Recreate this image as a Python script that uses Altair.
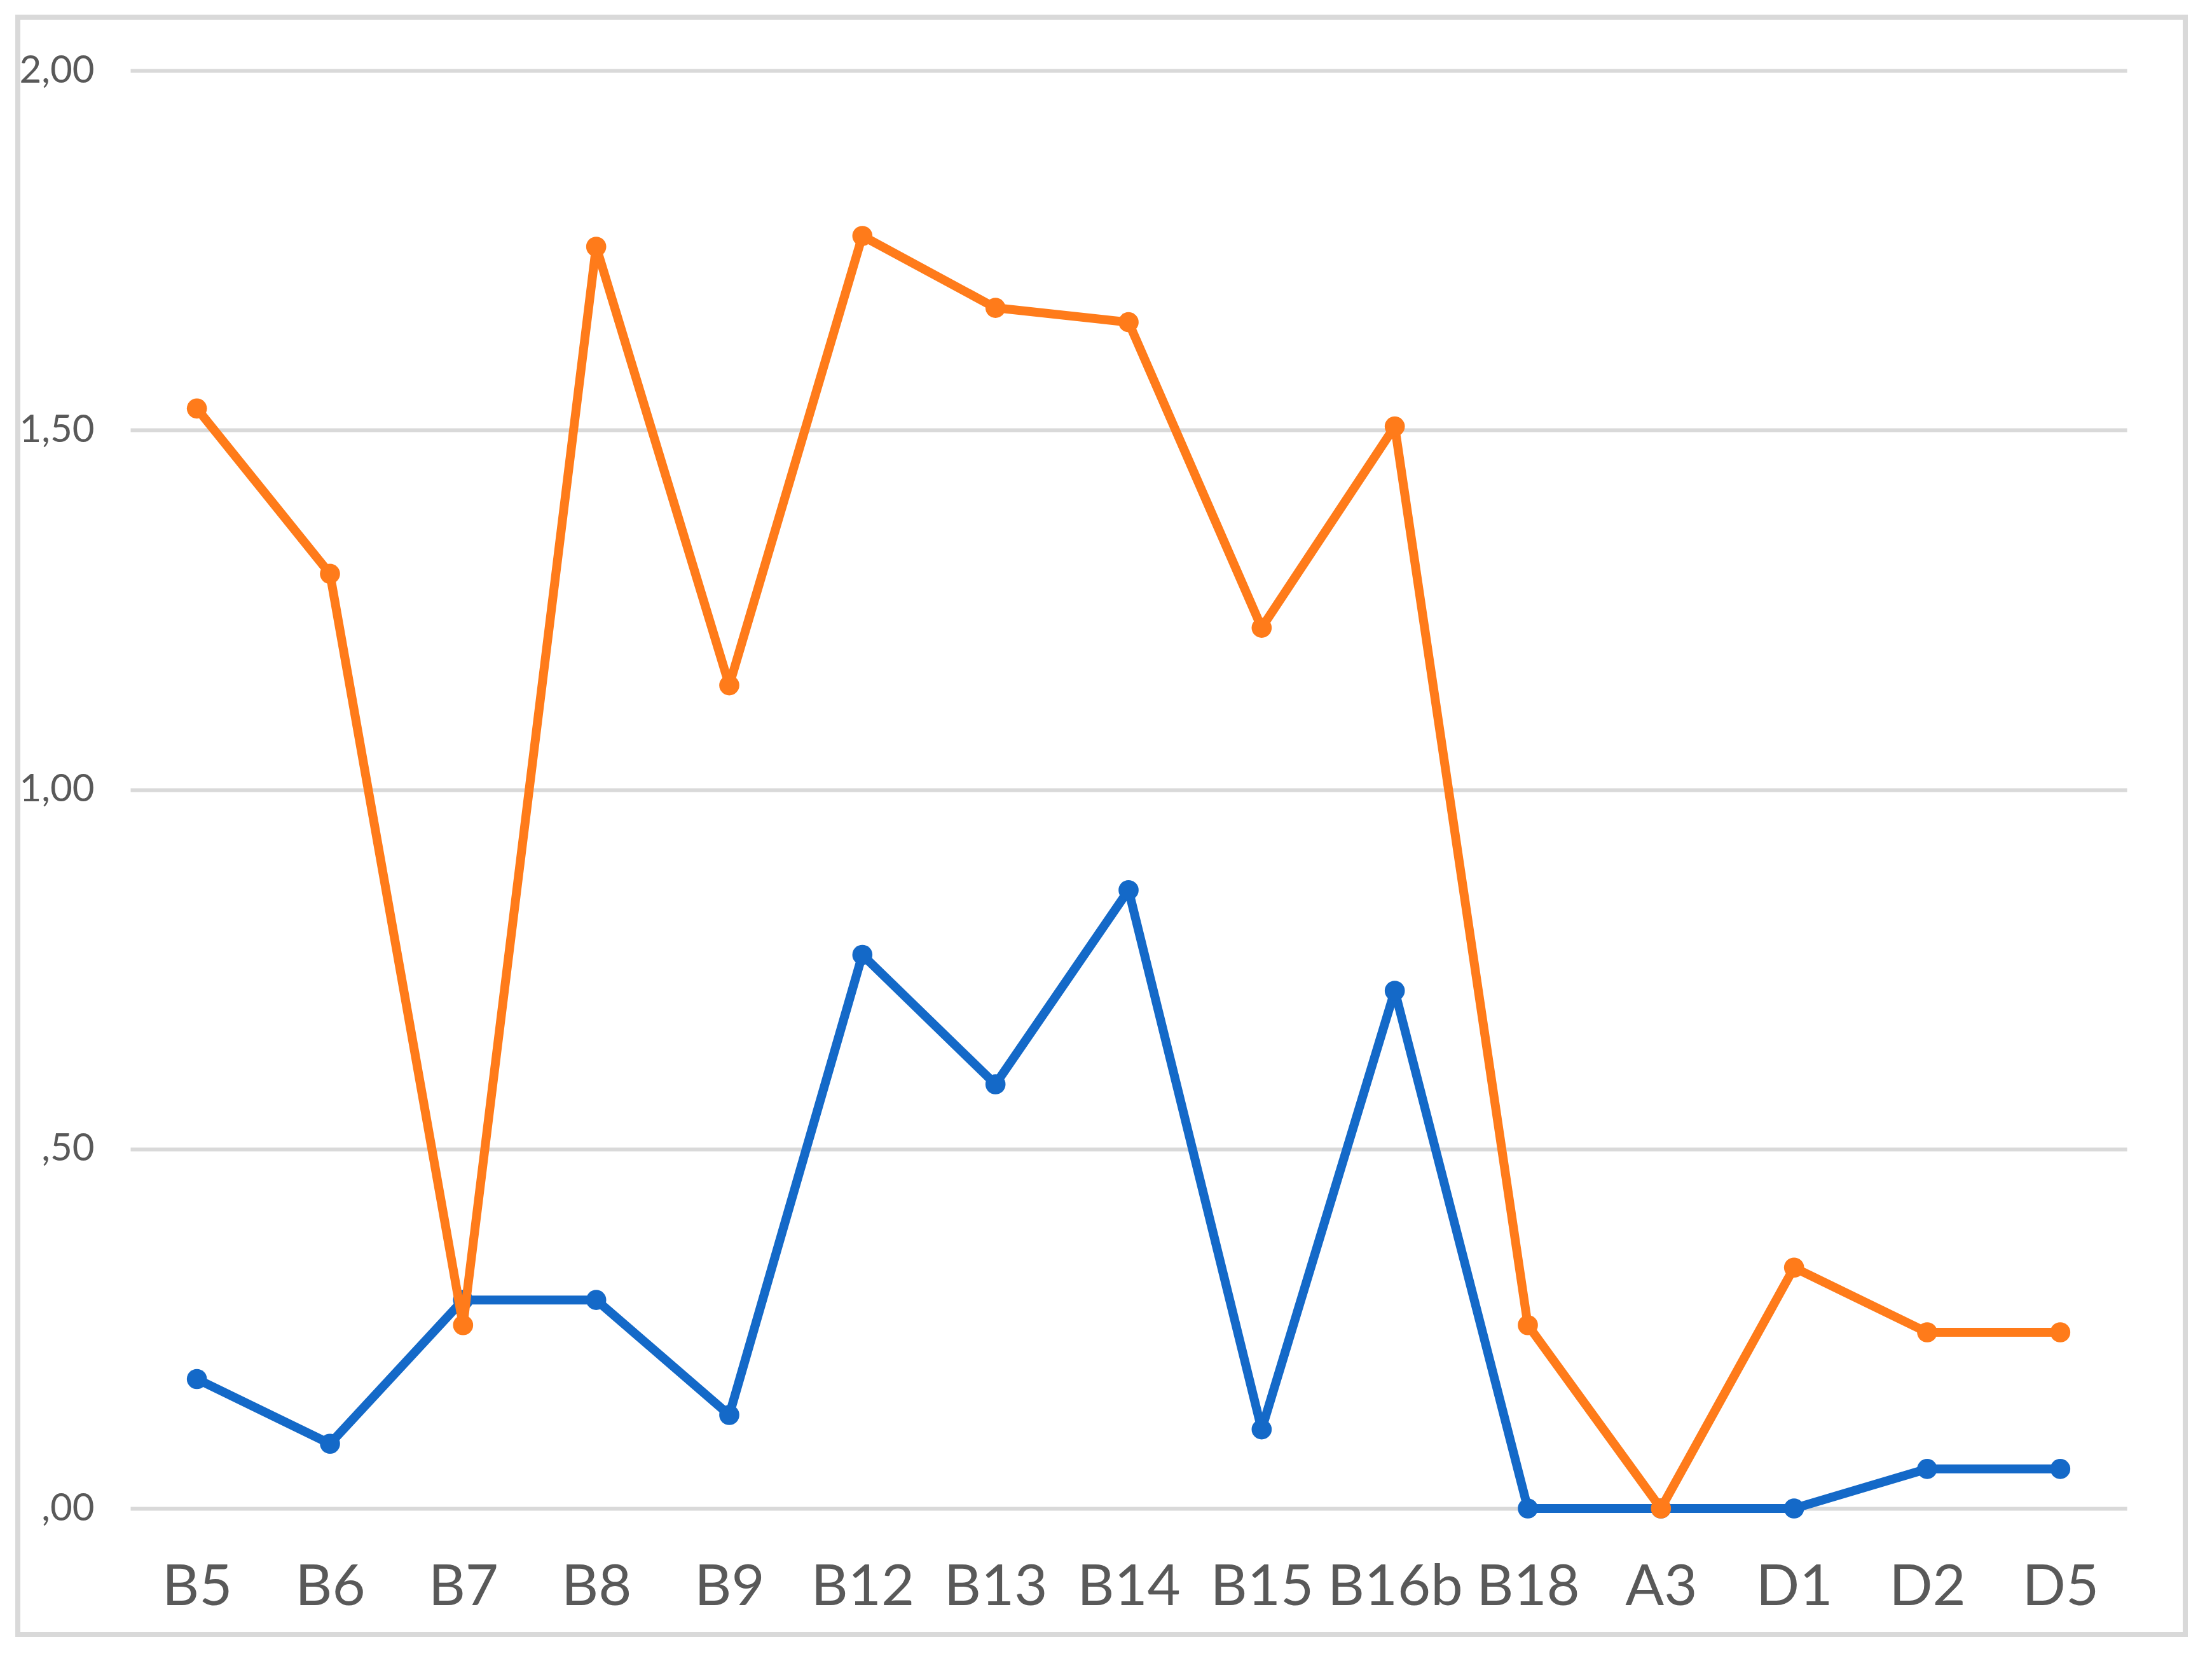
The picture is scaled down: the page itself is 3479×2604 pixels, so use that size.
import altair as alt
import pandas as pd

categories = ["B5", "B6", "B7", "B8", "B9", "B12", "B13", "B14", "B15", "B16b", "B18", "A3", "D1", "D2", "D5"]
orange_values = [1.53, 1.30, 0.255, 1.755, 1.145, 1.77, 1.67, 1.65, 1.225, 1.505, 0.255, 0.0, 0.335, 0.245, 0.245]
blue_values = [0.18, 0.09, 0.29, 0.29, 0.13, 0.77, 0.59, 0.86, 0.11, 0.72, 0.0, 0.0, 0.0, 0.055, 0.055]

tick_values = [0, 0.5, 1, 1.5, 2]
tick_labels = [",00", ",50", "1,00", "1,50", "2,00"]

BLUE = "#1469C8"
ORANGE = "#FF7B1A"
GRID = "#D9D9D9"
TEXT = "#595959"
FONT = "Lato"

df = pd.DataFrame({
    "cat": categories * 2,
    "value": blue_values + orange_values,
    "series": ["blue"] * len(categories) + ["orange"] * len(categories),
})

label_expr = "''"
for v, l in zip(reversed(tick_values), reversed(tick_labels)):
    label_expr = f"(abs(datum.value - {v}) < 1e-9 ? '{l}' : {label_expr})"

W, H = 3140, 2261

x_enc = alt.X("cat:N", sort=categories, title=None,
              scale=alt.Scale(paddingInner=0, paddingOuter=0),
              axis=alt.Axis(labelAngle=0, ticks=False, domain=False, grid=False,
                            labelFont=FONT, labelFontSize=90, labelColor=TEXT,
                            labelPadding=80, labelBaseline="top", labelLimit=0,
                            labelOverlap=False))
y_enc = alt.Y("value:Q", title=None,
              scale=alt.Scale(domain=[0, 2], nice=False, zero=True),
              axis=alt.Axis(values=tick_values, labelExpr=label_expr, ticks=False,
                            domain=False, grid=True, gridColor=GRID, gridWidth=6,
                            labelFont=FONT, labelFontSize=60, labelColor=TEXT,
                            labelPadding=57))

base = alt.Chart(df)

def series_layer(name, color):
    return base.transform_filter(alt.datum.series == name).mark_line(
        color=color, strokeWidth=14, strokeJoin="round",
        point=alt.OverlayMarkDef(color=color, size=1000, filled=True, opacity=1),
    ).encode(x=x_enc, y=y_enc)

border = alt.Chart(pd.DataFrame({"a": [0]})).mark_rect(
    fillOpacity=0, stroke=GRID, strokeWidth=8
).encode(x=alt.value(-177), x2=alt.value(3232), y=alt.value(-84), y2=alt.value(2459))

chart = alt.layer(
    series_layer("blue", BLUE),
    series_layer("orange", ORANGE),
    border,
).properties(
    width=W, height=H,
    autosize=alt.AutoSizeParams(type="none"),
    padding={"left": 197, "top": 103, "right": 126, "bottom": 224},
    background="white",
).configure_view(stroke=None)

chart.save("out.html", embed_options={"renderer": "svg", "actions": False})
